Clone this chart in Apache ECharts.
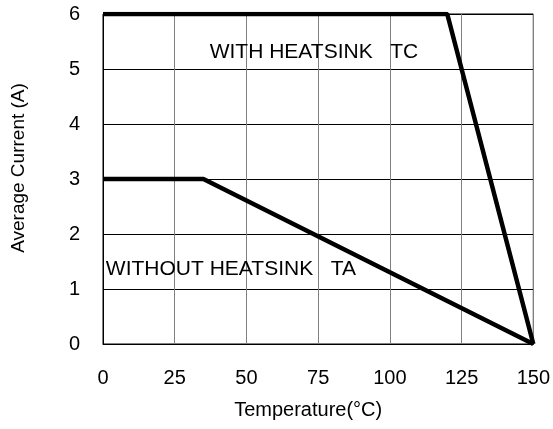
<!DOCTYPE html>
<html lang="en" style="height: 100%">
<head>
    <meta charset="UTF-8">
    <title>Average Current vs Temperature</title>
    <script src="https://cdn.jsdelivr.net/npm/echarts@6/dist/echarts.min.js"></script>
</head>
<body style="height: 100%; margin: 0; background: #fff">
<div id="main" style="width: 553px; height: 429px"></div>
<script>
    // derating curves, temperature (°C) vs current (A)
    var tcTemp = [0, 120, 150];
    var tcCurrent = [6, 6, 0];
    var taTemp = [0, 35, 150];
    var taCurrent = [3, 3, 0];

    // annotation anchors (data coords)
    var tcLabel = {text: 'WITH HEATSINK   TC', at: [37.2, 5.3]};
    var taLabel = {text: 'WITHOUT HEATSINK   TA', at: [1.0, 1.36]};

    var font = 'Liberation Sans, Arial, sans-serif';

    function pairs(xs, ys) {
        return xs.map(function (x, i) { return [x, ys[i]]; });
    }

    function note(lbl) {
        return {
            symbol: 'circle',
            symbolSize: 0,
            data: [{coord: lbl.at, value: lbl.text}],
            label: {
                show: true,
                position: 'right',
                distance: 0,
                formatter: '{c}',
                color: '#000',
                fontSize: 21,
                fontFamily: font
            }
        };
    }

    var myoption = {
        animation: false,
        grid: {
            left: 103, right: 19, top: 14, bottom: 85,
            show: true, borderColor: '#000', borderWidth: 1
        },
        xAxis: {
            type: 'value',
            min: 0, max: 150, interval: 25,
            name: 'Temperature(°C)',
            nameLocation: 'middle',
            nameGap: 56,
            nameTextStyle: {color: '#000', fontSize: 20, fontFamily: font, padding: [0, 20, 0, 0]},
            axisLine: {show: true, lineStyle: {color: '#000'}},
            axisTick: {show: false},
            axisLabel: {color: '#000', fontSize: 20, fontFamily: font, margin: 24},
            splitLine: {show: true, lineStyle: {color: '#808080', width: 1}}
        },
        yAxis: {
            type: 'value',
            min: 0, max: 6, interval: 1,
            name: 'Average Current (A)',
            nameLocation: 'middle',
            nameGap: 75,
            nameTextStyle: {color: '#000', fontSize: 19, fontFamily: font, padding: [0, 0, 0, 22]},
            axisLine: {show: true, lineStyle: {color: '#000'}},
            axisTick: {show: false},
            axisLabel: {color: '#000', fontSize: 20, fontFamily: font, margin: 23},
            splitLine: {show: true, lineStyle: {color: '#000', width: 1}}
        },
        series: [
            {
                name: 'TC',
                type: 'line',
                data: pairs(tcTemp, tcCurrent),
                symbol: 'none',
                lineStyle: {color: '#000', width: 4.5},
                markPoint: note(tcLabel)
            },
            {
                name: 'TA',
                type: 'line',
                data: pairs(taTemp, taCurrent),
                symbol: 'none',
                lineStyle: {color: '#000', width: 4.5},
                markPoint: note(taLabel)
            }
        ]
    };
    var myChart = echarts.init(document.getElementById('main'));
    myChart.setOption(myoption);
</script>
</body>
</html>
